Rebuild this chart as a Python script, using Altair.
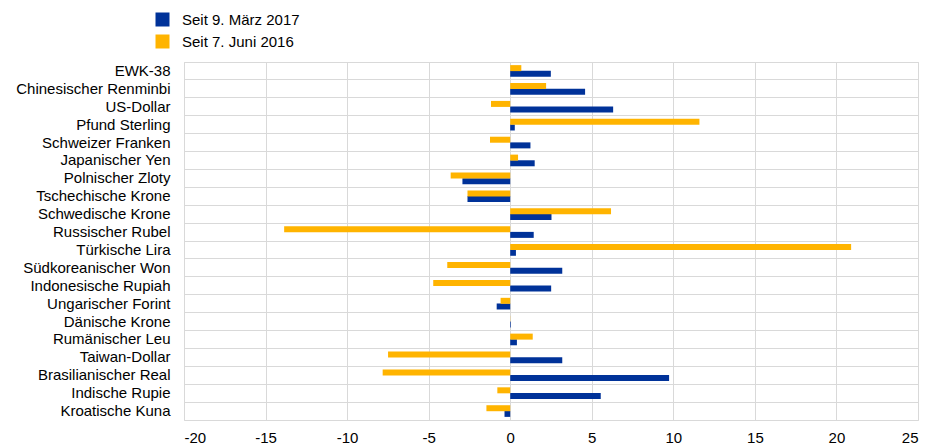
import altair as alt
import pandas as pd

categories = ["EWK-38", "Chinesischer Renminbi", "US-Dollar", "Pfund Sterling",
              "Schweizer Franken", "Japanischer Yen", "Polnischer Zloty",
              "Tschechische Krone", "Schwedische Krone", "Russischer Rubel",
              "Türkische Lira", "Südkoreanischer Won", "Indonesische Rupiah",
              "Ungarischer Forint", "Dänische Krone", "Rumänischer Leu",
              "Taiwan-Dollar", "Brasilianischer Real", "Indische Rupie",
              "Kroatische Kuna"]
seit_2017 = [2.49, 4.59, 6.31, 0.28, 1.24, 1.5, -2.93, -2.62, 2.53, 1.44,
             0.35, 3.19, 2.51, -0.83, 0.04, 0.41, 3.19, 9.74, 5.55, -0.35]
seit_2016 = [0.68, 2.2, -1.18, 11.6, -1.24, 0.48, -3.65, -2.62, 6.18, -13.86,
             20.9, -3.86, -4.72, -0.59, 0.01, 1.38, -7.49, -7.82, -0.79, -1.46]
series = ["Seit 9. März 2017", "Seit 7. Juni 2016"]
colors = ["#003299", "#FFB400"]
x_ticks = [-20, -15, -10, -5, 0, 5, 10, 15, 20, 25]

rows = []
for c, a, b in zip(categories, seit_2017, seit_2016):
    rows.append({"Währung": c, "Serie": series[0], "Wert": a})
    rows.append({"Währung": c, "Serie": series[1], "Wert": b})
df = pd.DataFrame(rows)

font = "Liberation Sans"
fs = 15

chart = alt.Chart(df).mark_bar(size=6).encode(
    y=alt.Y("Währung:N", sort=categories, title=None,
            scale=alt.Scale(paddingInner=0, paddingOuter=0),
            axis=alt.Axis(bandPosition=0, grid=True, ticks=False, domain=False,
                          labelPadding=14, labelFontSize=fs, labelColor="#000000",
                          labelFont=font, gridColor="#d9d9d9", gridWidth=1)),
    yOffset=alt.YOffset("Serie:N", sort=[series[1], series[0]],
                        scale=alt.Scale(paddingOuter=0.58, paddingInner=0)),
    x=alt.X("Wert:Q", title=None,
            scale=alt.Scale(domain=[-20, 25], nice=False),
            axis=alt.Axis(values=x_ticks, ticks=False, domain=False,
                          labelExpr="datum.value + ''",
                          labelPadding=10, labelFontSize=fs, labelColor="#000000",
                          labelFont=font, gridColor="#d9d9d9", gridWidth=1)),
    color=alt.Color("Serie:N",
                    scale=alt.Scale(domain=series, range=colors),
                    legend=alt.Legend(title=None, orient="none", legendX=-29, legendY=-50,
                                      symbolType="square", symbolSize=196,
                                      symbolStrokeWidth=0, labelFontSize=fs,
                                      labelFont=font, labelColor="#000000",
                                      rowPadding=6, labelOffset=12)),
).properties(
    width=734, height=358,
    autosize=alt.AutoSizeParams(type="none"),
    padding={"left": 176, "top": 54, "right": 4, "bottom": 26},
).configure_view(stroke="#d9d9d9")

chart.save("out.html", embed_options={"renderer": "svg", "actions": False})
